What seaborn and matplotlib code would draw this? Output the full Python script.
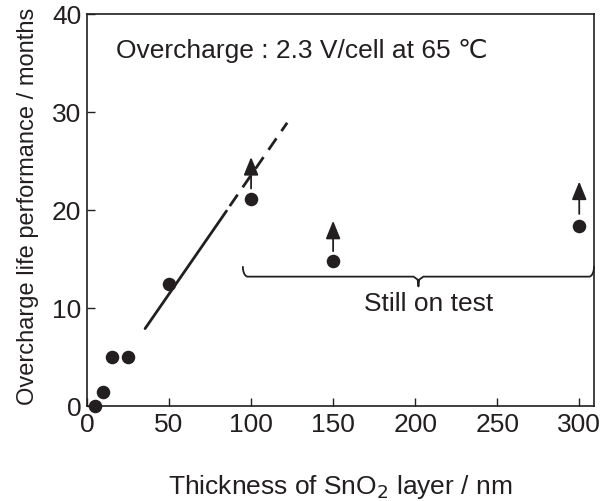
import numpy as np
import pandas as pd
import matplotlib
matplotlib.use("Agg")
import matplotlib.pyplot as plt
import seaborn as sns

# ---- data ----
thickness = [5, 10, 15, 25, 50, 100, 150, 300]
life = [0.0, 1.4, 5.0, 5.0, 12.4, 21.1, 14.8, 18.4]

# still-on-test arrows (x, shaft start, tip)
arrow_x = [100, 150, 300]
arrow_start = [22.2, 15.8, 19.6]
arrow_tip = [25.4, 18.9, 22.9]

# fitted line: solid part and dashed extrapolation
fit_solid_x = [35.4, 85.0]
fit_solid_y = [7.9, 19.9]
fit_dash_x = [87.0, 122.0]
fit_dash_y = [20.4, 28.9]

# brace spanning still-on-test samples
brace_x0, brace_x1, brace_mid = 95, 309, 202
brace_y = 13.2

xticks = [0, 50, 100, 150, 200, 250, 300]
yticks = [0, 10, 20, 30, 40]

ink = "#231f20"

sns.set_theme(style="white")
plt.rcParams['font.family'] = ['Liberation Sans', 'DejaVu Sans']
plt.rcParams['text.color'] = ink
plt.rcParams['axes.labelcolor'] = ink
plt.rcParams['xtick.color'] = ink
plt.rcParams['ytick.color'] = ink

fig = plt.figure(figsize=(6.09, 5.02), dpi=100)
ax = fig.add_axes([87/609, 1-407/502, (594-87)/609, (407-15)/502])

df = pd.DataFrame({"t": thickness, "life": life})
sns.scatterplot(data=df, x="t", y="life", ax=ax, s=95, color=ink,
                edgecolor=ink, linewidth=0, zorder=5, clip_on=False)

sns.lineplot(x=fit_solid_x, y=fit_solid_y, ax=ax, color=ink, lw=2)
sns.lineplot(x=fit_dash_x, y=fit_dash_y, ax=ax, color=ink, lw=2)
ax.lines[-1].set_dashes([5, 3.2])

for x, y0, y1 in zip(arrow_x, arrow_start, arrow_tip):
    ax.annotate("", xy=(x, y1), xytext=(x, y0),
                arrowprops=dict(arrowstyle="-|>,head_length=1.1,head_width=0.45",
                                mutation_scale=10, color=ink, lw=1.3,
                                shrinkA=0, shrinkB=0))

# brace
bx = []
by = []
th = np.linspace(np.pi, 1.5*np.pi, 12)
bx += list(brace_x0 + 3*(1 + np.cos(th)))
by += list(brace_y + 1.0 + 1.0*np.sin(th))
bx += [brace_mid - 3, brace_mid - 0.5, brace_mid, brace_mid + 0.5, brace_mid + 3]
by += [brace_y, brace_y - 0.3, brace_y - 1.0, brace_y - 0.3, brace_y]
th2 = np.linspace(1.5*np.pi, 2*np.pi, 12)
bx += list(brace_x1 - 3*(1 - np.cos(th2)))
by += list(brace_y + 1.0 + 1.0*np.sin(th2))
ax.plot(bx, by, color=ink, lw=1.3, clip_on=False)

ax.text(208, 10.5, "Still on test", fontsize=19, ha="center", va="center")
ax.text(17.5, 36.3, "Overcharge : 2.3 V/cell at 65 \u2103", fontsize=19,
        ha="left", va="center")

ax.set_xlim(0, 309)
ax.set_ylim(0, 40)
ax.set_xticks(xticks)
ax.set_yticks(yticks)
ax.tick_params(direction="in", length=6, width=1, labelsize=19, pad=4,
               bottom=True, left=True, top=False, right=False)
for s in ax.spines.values():
    s.set_color(ink)
    s.set_linewidth(1.2)

ax.set_xlabel("Thickness of SnO$_2$ layer / nm", fontsize=19, va="center")
ax.xaxis.set_label_coords(0.5, (407-487)/392)
ax.set_ylabel("Overcharge life performance / months", fontsize=17, va="center")
ax.yaxis.set_label_coords((28-87)/507, (407-206)/392)

fig.savefig("out.png", dpi=100)
